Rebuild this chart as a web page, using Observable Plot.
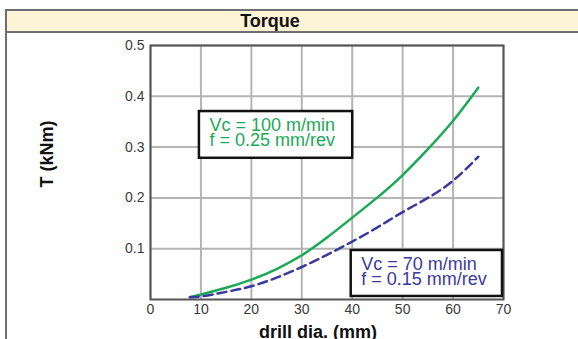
<!DOCTYPE html>
<html>
<head>
<meta charset="utf-8">
<script src="https://cdn.jsdelivr.net/npm/d3@7"></script>
<script src="https://cdn.jsdelivr.net/npm/@observablehq/plot@0.6"></script>
<style>
  html, body { margin: 0; padding: 0; background: #fff; }
  body { width: 578px; height: 339px; overflow: hidden; font-family: "Liberation Sans", Arial, sans-serif; }
  #wrap { position: relative; width: 578px; height: 339px; }
  #band { position: absolute; left: 5px; top: 9px; width: 600px; height: 20px;
          background: #fdf3d6; border: 2px solid #6e6e6e; border-right: none; box-sizing: content-box; }
  #band span { position: absolute; left: 263px; transform: translateX(-50%); top: -1px;
               font-weight: bold; font-size: 18px; color: #111; line-height: 22px; }
  #leftline { position: absolute; left: 5px; top: 9px; width: 2px; height: 340px; background: #6e6e6e; }
  #chart { position: absolute; left: 0; top: 0; }
</style>
</head>
<body>
<div id="wrap">
  <div id="chart"></div>
  <div id="leftline"></div>
  <div id="band"><span>Torque</span></div>
</div>
<script>
const xTicks = [0, 10, 20, 30, 40, 50, 60, 70];
const yTicks = [0.1, 0.2, 0.3, 0.4, 0.5];

const diameters = [7.8, 10, 15, 20, 25, 30, 35, 40, 45, 50, 55, 60, 65];
const torqueHigh = [0.005, 0.01, 0.023, 0.039, 0.06, 0.087, 0.122, 0.161, 0.201, 0.245, 0.296, 0.352, 0.417];
const torqueLow  = [0.0045, 0.006, 0.015, 0.026, 0.043, 0.064, 0.088, 0.114, 0.142, 0.172, 0.2, 0.234, 0.281];

const labels = ["Vc = 100 m/min\nf = 0.25 mm/rev", "Vc = 70 m/min\nf = 0.15 mm/rev"];
const boxX1 = [9.7, 39.8];
const boxX2 = [40.1, 69.8];
const boxY1 = [0.278, 0.006];
const boxY2 = [0.37, 0.0965];

const green = "#1aaa55";
const blue = "#3a3a9e";

const high = diameters.map((d, i) => ({d, t: torqueHigh[i]}));
const low = diameters.map((d, i) => ({d, t: torqueLow[i]}));
const notes = labels.map((text, i) => ({text, x1: boxX1[i], x2: boxX2[i], y1: boxY1[i], y2: boxY2[i], color: i === 0 ? green : blue}));

const font = '"Liberation Sans", Arial, sans-serif';

const chart = Plot.plot({
  width: 578,
  height: 339,
  marginLeft: 150,
  marginRight: 75,
  marginTop: 45,
  marginBottom: 40,
  style: {fontFamily: font, background: "transparent", overflow: "visible"},
  x: {domain: [0, 70]},
  y: {domain: [0, 0.5]},
  marks: [
    Plot.gridX(xTicks, {stroke: "#b4b4b4", strokeOpacity: 1, strokeWidth: 2}),
    Plot.gridY(yTicks, {stroke: "#b4b4b4", strokeOpacity: 1, strokeWidth: 2}),
    Plot.frame({stroke: "#555", strokeWidth: 2}),
    Plot.axisX(xTicks, {tickSize: 0, tickPadding: 5, fontSize: 14, fill: "#3a3a3a", label: null}),
    Plot.axisY(yTicks, {tickSize: 0, tickPadding: 6, fontSize: 14, fill: "#3a3a3a", label: null, tickFormat: d3.format(".1f")}),
    Plot.line(high, {x: "d", y: "t", stroke: green, strokeWidth: 2.5, curve: "natural"}),
    Plot.line(low, {x: "d", y: "t", stroke: blue, strokeWidth: 2.5, strokeDasharray: "9,5", curve: "natural"}),
    Plot.rect(notes, {x1: "x1", x2: "x2", y1: "y1", y2: "y2", fill: "white", stroke: "#111", strokeWidth: 2.5}),
    Plot.text(notes, {x: "x1", y: d => (d.y1 + d.y2) / 2, text: "text", fill: "color", textAnchor: "start",
      dx: 10, dy: -1, fontSize: 18, lineHeight: 0.82, lineAnchor: "middle"}),
    Plot.text(["T (kNm)"], {frameAnchor: "left", rotate: -90, dx: -103, dy: 15, fontSize: 18, fontWeight: "bold", fill: "#111"}),
    Plot.text(["drill dia. (mm)"], {frameAnchor: "bottom", dx: -9, dy: 38, fontSize: 18, fontWeight: "bold", fill: "#111"})
  ]
});
document.getElementById("chart").appendChild(chart);
</script>
</body>
</html>
